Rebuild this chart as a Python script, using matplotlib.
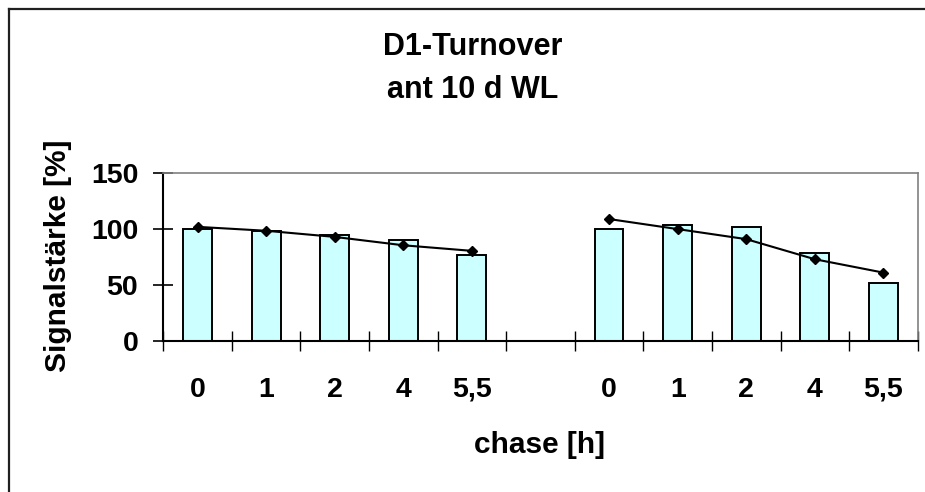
import numpy as np
import matplotlib.pyplot as plt
from matplotlib.lines import Line2D

plt.rcParams['font.family'] = ['Liberation Sans', 'DejaVu Sans']
plt.rcParams['font.weight'] = 'bold'

# chase-Zeitpunkte und Messwerte (zwei Versuchsreihen)
chase_labels = ['0', '1', '2', '4', '5,5']
bars_a = [100, 98, 95, 90, 77]
line_a = [102, 98.5, 93, 85.5, 80.5]
bars_b = [100, 104, 102, 78.5, 52]
line_b = [109, 100, 91, 73, 61]

pos_a = np.arange(5)
pos_b = np.arange(6, 11)

fig = plt.figure(figsize=(9.25, 4.92), dpi=100)
ax = fig.add_axes([0.1765, 0.3075, 0.8156, 0.3403])

bar_kw = dict(width=0.42, color='#ccffff', edgecolor='black', linewidth=1.4, zorder=2)
ax.bar(pos_a, bars_a, **bar_kw)
ax.bar(pos_b, bars_b, **bar_kw)

line_kw = dict(color='black', linewidth=1.5, marker='D', markersize=5, zorder=3)
ax.plot(pos_a, line_a, **line_kw)
ax.plot(pos_b, line_b, **line_kw)

ax.set_xlim(-0.5, 10.5)
ax.set_ylim(0, 150)
ax.set_yticks([0, 50, 100, 150])
ax.tick_params(axis='y', direction='inout', length=14.4, width=1.2, pad=10.8, labelsize=20.5)

# Striche an den Kategoriegrenzen, Beschriftung in der Mitte
ax.set_xticks(np.arange(-0.5, 11, 1))
ax.set_xticklabels([])
ax.tick_params(axis='x', which='major', direction='inout', length=14.4, width=1.0)
ax.set_xticks(np.concatenate([pos_a, pos_b]), minor=True)
ax.set_xticklabels(chase_labels + chase_labels, minor=True)
ax.tick_params(axis='x', which='minor', length=0, pad=26, labelsize=20.5)

for s in ['left', 'bottom']:
    ax.spines[s].set_color('black')
    ax.spines[s].set_linewidth(1.5)
for s in ['top', 'right']:
    ax.spines[s].set_color('#808080')
    ax.spines[s].set_linewidth(1.2)

fig.text(473 / 925, 1 - 47 / 492, 'D1-Turnover', ha='center', va='center', fontsize=22)
fig.text(473 / 925, 1 - 90 / 492, 'ant 10 d WL', ha='center', va='center', fontsize=22)
fig.text(540 / 925, 1 - 445 / 492, 'chase [h]', ha='center', va='center', fontsize=21.5)
fig.text(58 / 925, 1 - 256 / 492, 'Signalstärke [%]', ha='center', va='center',
         rotation=90, fontsize=21.5)

# Rahmen um das Diagramm
fig.add_artist(Line2D([8.5 / 925, 8.5 / 925], [0, 1 - 8.5 / 492], transform=fig.transFigure,
                      color='#202020', linewidth=1.6))
fig.add_artist(Line2D([8.5 / 925, 1], [1 - 8.5 / 492, 1 - 8.5 / 492], transform=fig.transFigure,
                      color='#202020', linewidth=1.6))

fig.savefig('out.png', dpi=100)
